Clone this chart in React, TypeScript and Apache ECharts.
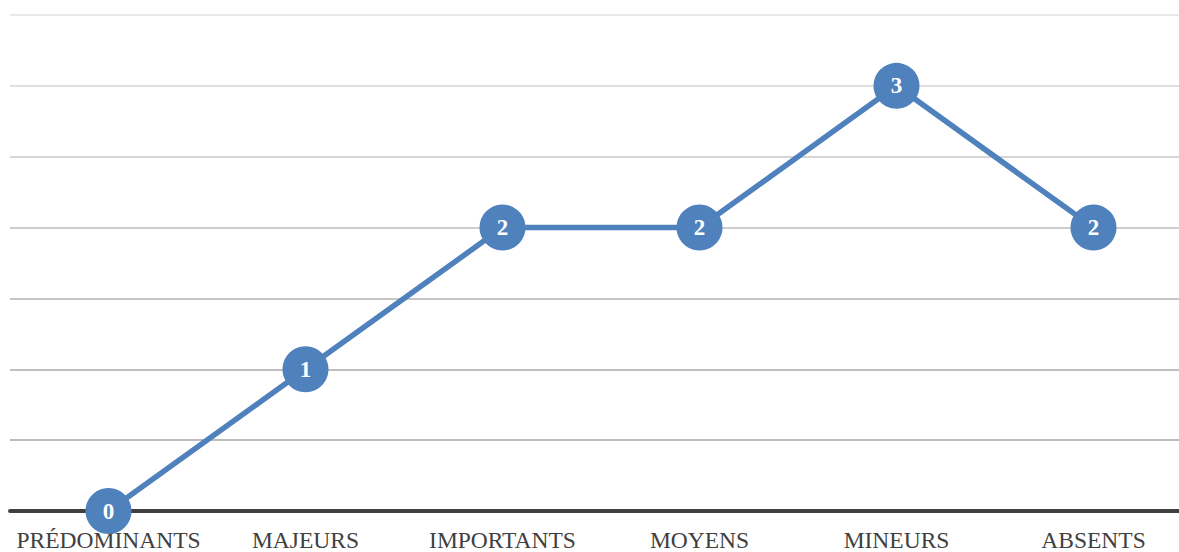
import React, { useEffect, useRef } from "react";
import * as echarts from "echarts";

const categories = ["PRÉDOMINANTS", "MAJEURS", "IMPORTANTS", "MOYENS", "MINEURS", "ABSENTS"];
const counts = [0, 1, 2, 2, 3, 2];
const yMin = 0;
const yMax = 3.5;
const yStep = 0.5;
// grid lines fade from darker near the axis to light at the top
const gridColors = ["#a0a0a0", "#a4a4a4", "#aaaaaa", "#b2b2b2", "#bcbcbc", "#c8c8c8", "#d6d6d6", "#e2e2e2"];

const SERIF = "'Liberation Serif', 'DejaVu Serif', serif";
const BLUE = "#4f81bd";

export default function App() {
  const ref = useRef<HTMLDivElement>(null);

  useEffect(() => {
    if (!ref.current) return;
    const chart = echarts.init(ref.current, null, { renderer: "svg" });
    chart.setOption({
      animation: false,
      backgroundColor: "#ffffff",
      grid: { left: 10, right: 3, top: 15, bottom: 41, containLabel: false },
      xAxis: {
        type: "category",
        data: categories,
        boundaryGap: true,
        axisLine: { show: true, lineStyle: { color: "#404040", width: 4 } },
        axisTick: { show: false },
        axisLabel: {
          color: "#404040",
          fontFamily: SERIF,
          fontSize: 23.5,
          margin: 17,
          interval: 0,
        },
        splitLine: { show: false },
        z: 1,
      },
      yAxis: {
        type: "value",
        min: yMin,
        max: yMax,
        interval: yStep,
        axisLine: { show: false },
        axisTick: { show: false },
        axisLabel: { show: false },
        splitLine: { show: true, lineStyle: { color: gridColors, width: 1.5 } },
      },
      series: [
        {
          type: "line",
          data: counts,
          symbol: "circle",
          symbolSize: 46,
          lineStyle: { color: BLUE, width: 5.5 },
          itemStyle: { color: BLUE, borderWidth: 0 },
          label: {
            show: true,
            position: "inside",
            color: "#ffffff",
            fontFamily: SERIF,
            fontWeight: "bold",
            fontSize: 23,
          },
          z: 5,
        },
      ],
    });
    return () => chart.dispose();
  }, []);

  return (
    <div
      style={{
        position: "fixed",
        left: 0,
        top: 0,
        width: 1179,
        height: 552,
        overflow: "hidden",
        background: "#ffffff",
      }}
    >
      <div ref={ref} style={{ width: 1195, height: 552 }} />
    </div>
  );
}
